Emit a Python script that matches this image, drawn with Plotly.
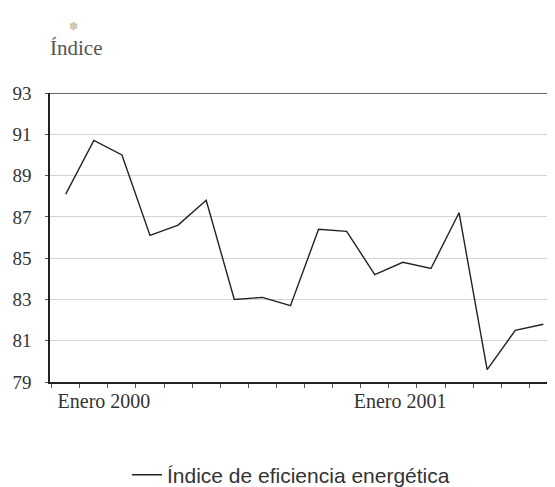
import plotly.graph_objects as go

months = ["2000-01", "2000-02", "2000-03", "2000-04", "2000-05", "2000-06",
          "2000-07", "2000-08", "2000-09", "2000-10", "2000-11", "2000-12",
          "2001-01", "2001-02", "2001-03", "2001-04", "2001-05", "2001-06"]
indice = [88.1, 90.7, 90.0, 86.1, 86.6, 87.8, 83.0, 83.1, 82.7, 86.4, 86.3, 84.2,
          84.8, 84.5, 87.2, 79.6, 81.5, 81.8]
y_ticks = [79, 81, 83, 85, 87, 89, 91, 93]
x_tick_pos = [1.36, 11.9]
x_tick_text = ["Enero 2000", "Enero 2001"]

x_idx = list(range(len(months)))

fig = go.Figure()
fig.add_trace(go.Scatter(
    x=x_idx, y=indice, mode="lines", name="Índice de eficiencia energética",
    line=dict(color="#222222", width=1.4), customdata=months,
))

serif = "Liberation Serif, Times New Roman, serif"
fig.update_layout(
    width=555, height=487,
    margin=dict(l=42, r=0, t=85, b=113, autoexpand=False),
    paper_bgcolor="white", plot_bgcolor="white",
    showlegend=True,
    legend=dict(x=0.150, y=-0.322, xanchor="left", yanchor="middle",
                font=dict(family="Liberation Sans, Arial, sans-serif", size=21, color="#333333"),
                bgcolor="rgba(0,0,0,0)"),
    xaxis=dict(
        range=[-0.56, 17.70], showgrid=False, zeroline=False,
        showline=True, linecolor="#222222", linewidth=1.5,
        tickmode="array", tickvals=x_tick_pos, ticktext=x_tick_text,
        ticks="", ticklabelstandoff=0,
        tickfont=dict(family=serif, size=20, color="#333333"),
        minor=dict(ticks="outside", ticklen=4, tickcolor="#555555", tick0=0.5, dtick=1, showgrid=False),
    ),
    yaxis=dict(
        range=[79, 93], tickmode="array", tickvals=y_ticks,
        showgrid=True, gridcolor="#d4d4d4", gridwidth=1,
        zeroline=False, showline=True, linecolor="#222222", linewidth=1.5,
        ticks="outside", ticklen=3, tickcolor="#555555",
        tickfont=dict(family=serif, size=19, color="#333333"),
        ticklabelstandoff=10,
    ),
    shapes=[dict(type="line", xref="paper", yref="y", x0=0, x1=1, y0=93, y1=93,
                 line=dict(color="#333333", width=1.3))],
    annotations=[
        dict(text="Índice", xref="paper", yref="paper", x=-0.004, y=1.107,
             xanchor="left", yanchor="bottom", showarrow=False,
             font=dict(family=serif, size=21, color="#555555")),
        dict(text="✽", xref="paper", yref="paper", x=0.045, y=1.2,
             xanchor="center", yanchor="bottom", showarrow=False,
             font=dict(family="DejaVu Sans", size=11, color="#c4c09a")),
    ],
)

fig.write_html("out.html")
